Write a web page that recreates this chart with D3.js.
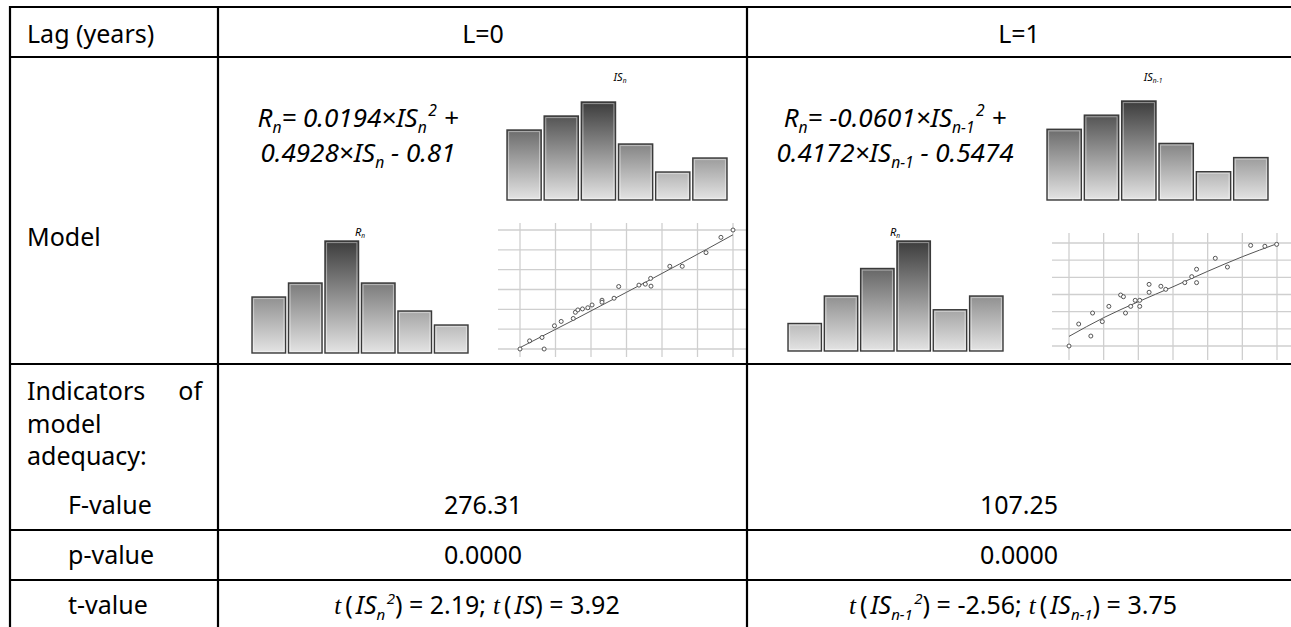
<!DOCTYPE html>
<html>
<head>
<meta charset="utf-8">
<script src="https://cdn.jsdelivr.net/npm/d3@7/dist/d3.min.js"></script>
<style>
  body { margin: 0; background: #fff; }
  svg { display: block; }
  text { font-family: "Noto Sans", sans-serif; fill: #000; }
</style>
</head>
<body>
<svg id="chart" width="1291" height="627"></svg>
<script>
// ---- table values ----
let lags = ["L=0", "L=1"];
let fValues = ["276.31", "107.25"];
let pValues = ["0.0000", "0.0000"];
let tSquare = ["2.19", "-2.56"];
let tLinear = ["3.92", "3.75"];

// ---- histogram counts (6 bins) ----
let isCounts0 = [5, 6, 7, 4, 2, 3];
let rCounts0 = [4, 5, 8, 5, 3, 2];
let isCounts1 = [5, 6, 7, 4, 2, 3];
let rCounts1 = [2, 4, 6, 8, 3, 4];

// ---- scatter points, in grid units (x: IS, y: R) ----
let scatter0 = [[0, 0], [0.27, 0.41], [0.62, 0.58], [0.68, 0], [0.97, 1.17], [1.16, 1.39],
    [1.5, 1.54], [1.56, 1.85], [1.63, 1.97], [1.76, 2.02], [1.91, 2.08], [2.03, 2.22],
    [2.31, 2.46], [2.31, 2.36], [2.65, 2.56], [2.78, 3.15], [3.35, 3.22], [3.53, 3.27],
    [3.68, 3.56], [3.69, 3.17], [4.22, 4.17], [4.57, 4.17], [5.24, 4.86], [5.66, 5.63], [6, 6]];
let fit0 = [[0, 0.07], [1.5, 1.45], [3, 2.86], [4.5, 4.29], [6, 5.76]];

let scatter1 = [[0, 0], [0.28, 1.28], [0.63, 0.58], [0.68, 1.92], [0.96, 1.42], [1.15, 2.31],
    [1.49, 2.97], [1.57, 2.87], [1.63, 1.92], [1.78, 2.31], [1.91, 2.66], [2.04, 2.66],
    [2.04, 2.31], [2.31, 3.59], [2.31, 3.13], [2.65, 3.48], [2.79, 3.3], [3.34, 3.69],
    [3.54, 4.04], [3.68, 4.47], [3.68, 3.69], [4.22, 5.11], [4.57, 4.6], [5.24, 5.86],
    [5.65, 5.81], [5.99, 5.92]];
let fit1 = [[0, 0.56], [1, 1.65], [2, 2.58], [3, 3.45], [4, 4.35], [5, 5.2], [6, 5.96]];

let gridTicks = [0, 1, 2, 3, 4, 5, 6];

const svg = d3.select("#chart");
const W = 1291, H = 627;
svg.append("rect").attr("width", W).attr("height", H).attr("fill", "#fff");

// shared gradient builder (dark at top of chart, light at bottom)
const defs = svg.append("defs");
function makeGradient(id, y1, y2) {
    let g = defs.append("linearGradient")
        .attr("id", id)
        .attr("gradientUnits", "userSpaceOnUse")
        .attr("x1", 0).attr("x2", 0)
        .attr("y1", y1).attr("y2", y2);
    g.append("stop").attr("offset", 0).attr("stop-color", "#3c3c3c");
    g.append("stop").attr("offset", 1).attr("stop-color", "#e4e4e4");
}

/**
 * Rich text: parts like {s, k: "sub"|"sup"|undefined, f: font, it: italic}
 */
function rich(sel, parts, size) {
    let shift = 0;
    parts.forEach(p => {
        let target = p.k === "sub" ? 0.22 * size : p.k === "sup" ? -0.42 * size : 0;
        let ts = sel.append("tspan")
            .attr("dy", target - shift)
            .text(p.s);
        shift = target;
        if (p.k) ts.attr("font-size", size * 0.6);
        if (p.it) ts.attr("font-style", "italic");
        if (p.f) ts.attr("font-family", p.f);
        if (p.dx) ts.attr("dx", p.dx);
        else if (p.k === "sup") ts.attr("dx", 1.5);
    });
}

// ---- table grid ----
const colX = [10, 218, 747];
const rowY = [7, 57, 364, 530, 580];
const table = svg.append("g").attr("stroke", "#000").attr("stroke-width", 2.2);
colX.forEach(x => table.append("line").attr("x1", x).attr("x2", x).attr("y1", 6).attr("y2", H + 2));
rowY.forEach(y => table.append("line").attr("x1", 9).attr("x2", W + 2).attr("y1", y).attr("y2", y));

// ---- left column labels ----
const FS = 25;
const label = (x, y, s, anchor) => svg.append("text")
    .attr("x", x).attr("y", y)
    .attr("font-size", FS)
    .attr("text-anchor", anchor || "start")
    .text(s);

label(27, 43, "Lag (years)");
label(27, 246, "Model");
label(27, 400, "Indicators");
label(202, 400, "of", "end");
label(27, 433, "model");
label(27, 465, "adequacy:");
label(68, 514, "F-value");
label(68, 564, "p-value");
label(68, 614, "t-value");

// ---- per-lag columns ----
const panels = [
    {
        cx: 483, eqX: 358,
        eq1: [{ s: "R", it: 1 }, { s: "n", k: "sub", it: 1 }, { s: "= 0.0194×IS", it: 1 }, { s: "n", k: "sub", it: 1 }, { s: "2", k: "sup", it: 1 }, { s: " +", it: 1 }],
        eq2: [{ s: "0.4928×IS", it: 1 }, { s: "n", k: "sub", it: 1 }, { s: " - 0.81", it: 1 }],
        isTitle: [{ s: "IS" }, { s: "n", k: "sub" }], isTitleX: 620,
        isCounts: isCounts0, isBand: [507, 727], isBase: 200, isTop: 102,
        rCounts: rCounts0, rBand: [252, 468], rBase: 353, rTop: 241, rTitleX: 360,
        pts: scatter0, fit: fit0,
        sx: [520, 733], sy: [349, 230], hLine: [498, 747], vLine: [223, 357],
        tParts: [{ s: "t", it: 1, f: "Liberation Serif" }, { s: "(", dx: 4 }, { s: "IS", it: 1, dx: 3 }, { s: "n", k: "sub", it: 1 }, { s: "2", k: "sup", it: 1 }, { s: ") = " + tSquare[0] + ";" },
            { s: "t", it: 1, f: "Liberation Serif", dx: 7 }, { s: "(", dx: 4 }, { s: "IS", it: 1, dx: 3 }, { s: ") = " + tLinear[0] }]
    },
    {
        cx: 1019, eqX: 895,
        eq1: [{ s: "R", it: 1 }, { s: "n", k: "sub", it: 1 }, { s: "= -0.0601×IS", it: 1 }, { s: "n-1", k: "sub", it: 1 }, { s: "2", k: "sup", it: 1 }, { s: " +", it: 1 }],
        eq2: [{ s: "0.4172×IS", it: 1 }, { s: "n-1", k: "sub", it: 1 }, { s: " - 0.5474", it: 1 }],
        isTitle: [{ s: "IS" }, { s: "n-1", k: "sub" }], isTitleX: 1153,
        isCounts: isCounts1, isBand: [1047, 1268], isBase: 200, isTop: 101,
        rCounts: rCounts1, rBand: [788, 1003], rBase: 351, rTop: 241, rTitleX: 895,
        pts: scatter1, fit: fit1,
        sx: [1069, 1277], sy: [346, 243], hLine: [1052, 1291], vLine: [233, 360],
        tParts: [{ s: "t", it: 1, f: "Liberation Serif" }, { s: "(", dx: 4 }, { s: "IS", it: 1, dx: 3 }, { s: "n-1", k: "sub", it: 1 }, { s: "2", k: "sup", it: 1 }, { s: ") = " + tSquare[1] + ";" },
            { s: "t", it: 1, f: "Liberation Serif", dx: 7 }, { s: "(", dx: 4 }, { s: "IS", it: 1, dx: 3 }, { s: "n-1", k: "sub", it: 1 }, { s: ") = " + tLinear[1] }]
    }
];

function histogram(g, counts, band, base, top, maxCount, gradId) {
    let x = d3.scaleBand().domain(d3.range(counts.length)).range(band).paddingInner(0.08);
    let y = d3.scaleLinear().domain([0, maxCount]).range([base, top]);
    makeGradient(gradId, y(maxCount), base);
    let bars = g.selectAll(null).data(counts).enter();
    bars.append("rect")
        .attr("x", (d, i) => x(i))
        .attr("y", d => y(d))
        .attr("width", x.bandwidth())
        .attr("height", d => base - y(d))
        .attr("fill", "url(#" + gradId + ")")
        .attr("stroke", "#3a3a3a")
        .attr("stroke-width", 1.4);
    bars.append("rect")
        .attr("x", (d, i) => x(i) + 1.6)
        .attr("y", d => y(d) + 1.6)
        .attr("width", x.bandwidth() - 3.2)
        .attr("height", d => base - y(d) - 3.2)
        .attr("fill", "none")
        .attr("stroke", "rgba(255,255,255,0.45)")
        .attr("stroke-width", 1);
}

panels.forEach((p, k) => {
    label(p.cx, 43, lags[k], "middle");
    label(p.cx, 514, fValues[k], "middle");
    label(p.cx, 564, pValues[k], "middle");

    // equation
    let e1 = svg.append("text").attr("x", p.eqX).attr("y", 127)
        .attr("font-size", 26).attr("text-anchor", "middle");
    rich(e1, p.eq1, 26);
    let e2 = svg.append("text").attr("x", p.eqX).attr("y", 162)
        .attr("font-size", 26).attr("text-anchor", "middle");
    rich(e2, p.eq2, 26);

    // histograms
    let gIs = svg.append("g");
    histogram(gIs, p.isCounts, p.isBand, p.isBase, p.isTop, d3.max(p.isCounts), "gIs" + k);
    let tIs = svg.append("text").attr("x", p.isTitleX).attr("y", 81)
        .attr("font-size", 11).attr("text-anchor", "middle")
        .attr("font-family", "Liberation Serif").attr("font-style", "italic").attr("fill", "#333");
    rich(tIs, p.isTitle, 11);

    let gR = svg.append("g");
    histogram(gR, p.rCounts, p.rBand, p.rBase, p.rTop, d3.max(p.rCounts), "gR" + k);
    let tR = svg.append("text").attr("x", p.rTitleX).attr("y", 236)
        .attr("font-size", 11).attr("text-anchor", "middle")
        .attr("font-family", "Liberation Serif").attr("font-style", "italic").attr("fill", "#333");
    rich(tR, [{ s: "R" }, { s: "n", k: "sub" }], 11);

    // scatter with fitted curve
    let sx = d3.scaleLinear().domain([0, 6]).range(p.sx);
    let sy = d3.scaleLinear().domain([0, 6]).range(p.sy);
    let gS = svg.append("g");
    gS.selectAll(".h").data(gridTicks).enter().append("line")
        .attr("x1", p.hLine[0]).attr("x2", p.hLine[1])
        .attr("y1", d => sy(d)).attr("y2", d => sy(d))
        .attr("stroke", "#cfcfcf").attr("stroke-width", 1.3);
    gS.selectAll(".v").data(gridTicks).enter().append("line")
        .attr("x1", d => sx(d)).attr("x2", d => sx(d))
        .attr("y1", p.vLine[0]).attr("y2", p.vLine[1])
        .attr("stroke", "#cfcfcf").attr("stroke-width", 1.3);
    gS.append("path")
        .datum(p.fit)
        .attr("d", d3.line().x(d => sx(d[0])).y(d => sy(d[1])).curve(d3.curveMonotoneX))
        .attr("fill", "none").attr("stroke", "#555").attr("stroke-width", 1);
    gS.selectAll("circle").data(p.pts).enter().append("circle")
        .attr("cx", d => sx(d[0])).attr("cy", d => sy(d[1]))
        .attr("r", 2)
        .attr("fill", "#fff").attr("stroke", "#444").attr("stroke-width", 0.9);

    // t-values
    let tv = svg.append("text").attr("x", p.cx - 6).attr("y", 614)
        .attr("font-size", FS).attr("text-anchor", "middle");
    rich(tv, p.tParts, FS);
});

// redraw borders on top so grids do not cover them
svg.node().appendChild(table.node());
</script>
</body>
</html>
